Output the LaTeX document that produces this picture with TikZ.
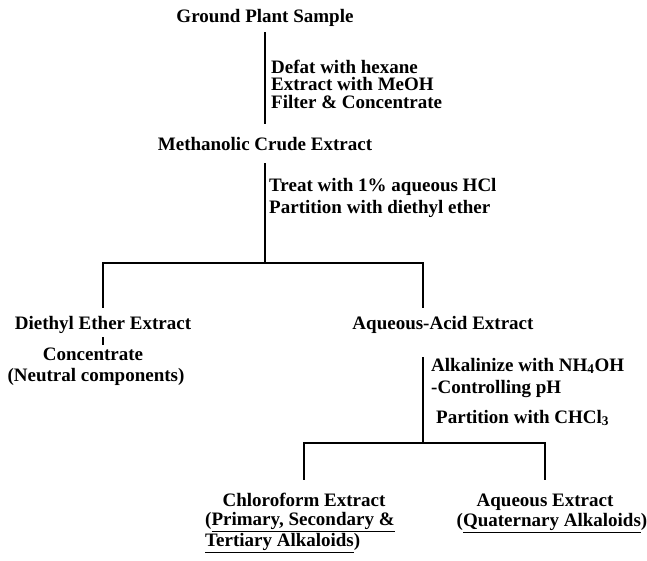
\documentclass[tikz,border=0pt]{standalone}
\usepackage{fontspec}
\setmainfont{Liberation Serif}
\usepackage{tikz}
\usetikzlibrary{positioning}

\begin{document}
\begin{tikzpicture}[x=1pt,y=-1pt]
\tikzstyle{stage}=[font=\fontsize{19}{21}\selectfont\bfseries,inner sep=0pt,text height=13pt,text depth=4pt]
\tikzstyle{action}=[font=\fontsize{19}{22}\selectfont\bfseries,inner sep=0pt,align=left,anchor=west]
\tikzstyle{note}=[font=\fontsize{19}{21}\selectfont\bfseries,inner sep=0pt,align=left]
\tikzstyle{link}=[draw,line width=1.1pt]
\useasboundingbox (0,0) rectangle (647,560);
\node [stage] (sample) at (265,18) {Ground Plant Sample};
\node [stage] (crude) at (265,146) {Methanolic Crude Extract};
\node [stage] (ether) at (103,325) {Diethyl Ether Extract};
\node [stage] (acid) at (443,325) {Aqueous-Acid Extract};
\node [stage] (concstep) at (93,356) {Concentrate};
\node [stage] (neutral) at (96,377) {(Neutral components)};
\node [stage] (chloro) at (304,502) {Chloroform Extract};
\node [note,anchor=north west] (chloronote) at (205,512)
    {(\underline{Primary, Secondary \&}\\\underline{Tertiary Alkaloids})};
\node [stage] (aqueous) at (545,502) {Aqueous Extract};
\node [stage] (aqueousnote) at (552,522) {(\underline{Quaternary Alkaloids})};
\node [action,font=\fontsize{19}{17.5}\selectfont\bfseries] (defat) at (271,84)
    {Defat with hexane\\Extract with MeOH\\Filter \& Concentrate};
\node [action] (treat) at (269,198)
    {Treat with 1\% aqueous HCl\\Partition with diethyl ether};
\node [action] (alkali) at (431,392)
    {Alkalinize with NH\textsubscript{4}OH\\-Controlling pH\\[8pt]\hspace*{5pt}Partition with CHCl\textsubscript{3}};
\coordinate (fork1) at (265,263);
\coordinate (fork2) at (423,443);
\draw [link,shorten <=5.5pt,shorten >=13.5pt] (sample) -- (crude);
\draw [link,shorten <=8.5pt] (crude) -- (fork1);
\draw [link,shorten <=8.5pt,shorten >=8.5pt] (ether) |- (fork1) -| ([xshift=-20pt]acid.north);
\draw [link,shorten <=3.5pt,shorten >=2.5pt] (ether.south) -- (ether.south |- concstep.north);
\draw [link,shorten <=23.5pt] ([xshift=-20pt]acid.south) -- (fork2);
\draw [link,shorten <=13.5pt,shorten >=13.5pt] (chloro) |- (fork2) -| (aqueous);
\end{tikzpicture}
\end{document}
